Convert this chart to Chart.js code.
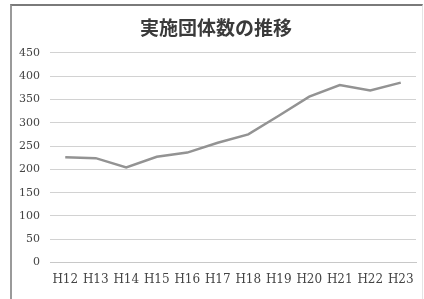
<!DOCTYPE html>
<html>
<head>
<meta charset="utf-8">
<script src="https://cdn.jsdelivr.net/npm/chart.js@4/dist/chart.umd.min.js"></script>
<style>
  html, body { margin: 0; padding: 0; background: #fff; }
  #wrap { position: relative; width: 424px; height: 299px; overflow: hidden; }
  #frame {
    position: absolute; left: 10px; top: 4px; width: 410px; height: 310px;
    border-top: 2px solid #7a7a7a; border-left: 2px solid #9a9a9a; border-right: 1px solid #e4e4e4;
    pointer-events: none;
  }
</style>
</head>
<body>
<div id="wrap">
  <canvas id="trendChart" width="424" height="299"></canvas>
  <div id="frame"></div>
</div>
<script>
const categories = ['H12', 'H13', 'H14', 'H15', 'H16', 'H17', 'H18', 'H19', 'H20', 'H21', 'H22', 'H23'];
const groupCounts = [226, 224, 204, 227, 236, 257, 275, 315, 356, 381, 369, 386];
const yTicks = [0, 50, 100, 150, 200, 250, 300, 350, 400, 450];

const ctx = document.getElementById('trendChart').getContext('2d');

new Chart(ctx, {
  type: 'line',
  data: {
    labels: categories,
    datasets: [{
      label: '実施団体数',
      data: groupCounts,
      borderColor: '#939393',
      borderWidth: 2.5,
      pointRadius: 0,
      tension: 0,
      fill: false
    }]
  },
  options: {
    responsive: false,
    animation: false,
    layout: { padding: { left: 16, right: 8, top: 0, bottom: 2 } },
    plugins: {
      legend: { display: false },
      tooltip: { enabled: false },
      title: {
        display: true,
        text: '実施団体数の推移',
        color: '#3a3a3a',
        font: { family: '"Noto Sans CJK JP"', size: 19, weight: 'bold', lineHeight: 1.2 },
        padding: { top: 16, bottom: 14 }
      }
    },
    scales: {
      x: {
        offset: true,
        grid: { display: false, drawTicks: false },
        border: { display: true, color: '#c8c8c8', width: 1 },
        ticks: {
          color: '#444',
          padding: 10,
          maxRotation: 0,
          autoSkip: false,
          font: { family: '"DejaVu Serif"', size: 12 }
        }
      },
      y: {
        min: 0,
        max: 450,
        afterFit: function(scale) { scale.width = 34; },
        afterBuildTicks: function(scale) {
          scale.ticks = yTicks.map(function(v) { return { value: v }; });
        },
        grid: { color: '#d2d2d2', lineWidth: 1, drawTicks: false },
        border: { display: false },
        ticks: {
          color: '#444',
          padding: 10,
          font: { family: '"DejaVu Serif"', size: 11 }
        }
      }
    }
  }
});
</script>
</body>
</html>
